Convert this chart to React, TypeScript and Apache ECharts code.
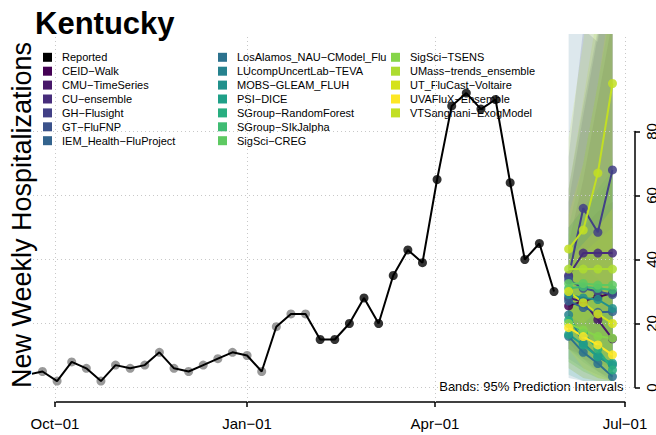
import React, { useEffect, useRef } from 'react';
import * as echarts from 'echarts';

// ---------- data ----------
const reportedStart = '2021-09-18';
const reportedValues = [
  4, 5, 2, 8, 6, 2, 7, 6, 7, 11, 6, 5, 7, 9, 11, 10, 5, 19, 23, 23,
  15, 15, 20, 28, 20, 35, 43, 39, 65, 88, 92, 87, 90, 64, 40, 45, 30,
];
const greyUntil = '2022-01-29';

const forecastDates = ['2022-06-04', '2022-06-11', '2022-06-18', '2022-06-25'];

const models = [
  'CEID−Walk', 'CMU−TimeSeries', 'CU−ensemble', 'GH−Flusight', 'GT−FluFNP',
  'IEM_Health−FluProject', 'LosAlamos_NAU−CModel_Flu', 'LUcompUncertLab−TEVA',
  'MOBS−GLEAM_FLUH', 'PSI−DICE', 'SGroup−RandomForest', 'SGroup−SIkJalpha',
  'SigSci−CREG', 'SigSci−TSENS', 'UMass−trends_ensemble', 'UT_FluCast−Voltaire',
  'UVAFluX−Ensemble', 'VTSanghani−ExogModel',
];
const modelColors = [
  '#440154', '#48186a', '#472d7b', '#424086', '#3b528b', '#33638d', '#2c728e',
  '#26828e', '#21918c', '#1fa088', '#28ae80', '#3fbc73', '#5ec962', '#86d549',
  '#addc30', '#d5e21a', '#fde725', '#c2df23',
];
const medians = [
  [25.5, 27, 28.3, 29.5],
  [28, 26.8, 21.2, 15.2],
  [35, 42, 42, 42],
  [34.6, 56, 48.5, 68],
  [33.6, 31, 30, 29],
  [27, 25, 23.5, 23.7],
  [16, 11, 7.5, 3.4],
  [22.7, 13.8, 9.6, 7],
  [29, 28, 27.5, 24.7],
  [16.6, 13.3, 9.6, 7.6],
  [21, 17, 12, 5.5],
  [31, 31.5, 31, 30.5],
  [32.5, 32.5, 32, 32],
  [20, 18, 16, 15.4],
  [37, 37, 37, 37],
  [30, 26.5, 23, 20],
  [18.7, 15.9, 13.3, 10.2],
  [43.3, 49.2, 67, 95],
];
const lower95 = [
  [12, 10, 8, 6], [14, 9, 5, 2], [20, 18, 14, 10], [16, 22, 14, 16],
  [12, 9, 7, 5], [9, 6, 4, 2], [3, 2, 2, 2], [6, 3, 2, 2], [12, 8, 5, 3],
  [4, 2, 2, 2], [8, 5, 3, 2], [16, 12, 8, 5], [18, 14, 10, 7], [8, 5, 3, 2],
  [18, 12, 8, 4], [12, 6, 3, 2], [6, 3, 2, 2], [22, 20, 24, 32],
];
const upper95 = [
  [45, 65, 90, 115], [44, 50, 55, 58], [58, 85, 110, 130], [72, 112, 108, 140],
  [62, 88, 112, 135], [50, 56, 60, 66], [130, 125, 120, 118], [42, 38, 34, 30],
  [50, 56, 62, 68], [34, 30, 26, 22], [38, 35, 32, 28], [50, 70, 95, 120],
  [48, 56, 64, 72], [38, 42, 46, 50], [62, 90, 118, 145], [54, 70, 95, 125],
  [40, 45, 50, 56], [78, 108, 145, 190],
];

const xTickDates = ['2021-10-01', '2022-01-01', '2022-04-01', '2022-07-01'];
const xTickLabels = ['Oct−01', 'Jan−01', 'Apr−01', 'Jul−01'];
const yTicks = [0, 20, 40, 60, 80];

// ---------- helpers ----------
const DAY = 86400000;
const ts = (s: string) => Date.parse(s + 'T00:00:00Z');
const FONT = '"Liberation Sans", Arial, Helvetica, sans-serif';

export default function App() {
  const ref = useRef<HTMLDivElement>(null);

  useEffect(() => {
    document.body.style.margin = '0';
    if (!ref.current) return;
    const chart = echarts.init(ref.current, undefined, { renderer: 'svg' });

    const startTs = ts(reportedStart);
    const reported = reportedValues.map((v, i) => [startTs + i * 7 * DAY, v]);
    const greyEnd = ts(greyUntil);
    const fTs = forecastDates.map(ts);
    const tickTs = xTickDates.map(ts);

    const xMin = ts('2021-10-01') - 10.537 * DAY;
    const xMax = ts('2022-07-01') + 4.789 * DAY;

    const series: any[] = [];

    // grid lines (dotted)
    series.push({
      type: 'line',
      name: '__grid',
      data: [],
      z: 0,
      silent: true,
      markLine: {
        silent: true,
        symbol: ['none', 'none'],
        label: { show: false },
        lineStyle: { color: '#c8c8c8', type: [1, 3], width: 1 },
        data: [
          ...tickTs.map((t) => ({ xAxis: t })),
          ...yTicks.map((v) => ({ yAxis: v })),
        ],
      },
    });

    // prediction bands (95% intervals) as polygons through the axis scales
    series.push({
      type: 'custom',
      name: 'Bands',
      silent: true,
      z: 2,
      clip: true,
      encode: { x: 0, y: 1 },
      data: models.map((_, i) => [fTs[0], lower95[i][0], i]),
      renderItem: (params: any, api: any) => {
        const idx = api.value(2);
        const top = fTs.map((t, k) => api.coord([t, upper95[idx][k]]));
        const bot = fTs.map((t, k) => api.coord([t, lower95[idx][k]])).reverse();
        const cs = params.coordSys;
        return {
          type: 'polygon',
          shape: { points: top.concat(bot) },
          style: { fill: modelColors[idx], opacity: 0.16 },
          clipPath: {
            type: 'rect',
            shape: { x: cs.x, y: cs.y, width: cs.width, height: cs.height },
          },
        };
      },
    });

    // medians
    models.forEach((m, i) => {
      series.push({
        type: 'line',
        name: m,
        color: modelColors[i],
        data: fTs.map((t, k) => [t, medians[i][k]]),
        symbol: 'circle',
        symbolSize: 9,
        showSymbol: true,
        lineStyle: { width: 2, color: modelColors[i] },
        itemStyle: { color: modelColors[i], opacity: 0.85 },
        z: 3,
      });
    });

    // reported
    series.push({
      type: 'scatter',
      name: 'Reported (grey)',
      data: reported.filter((d) => d[0] <= greyEnd),
      symbolSize: 9,
      itemStyle: { color: '#7f7f7f' },
      z: 5,
    });
    series.push({
      type: 'line',
      name: 'Reported',
      color: '#000',
      data: reported,
      symbol: 'none',
      lineStyle: { color: '#000', width: 2 },
      z: 6,
    });
    series.push({
      type: 'scatter',
      name: 'Reported (black)',
      data: reported.filter((d) => d[0] > greyEnd),
      symbolSize: 9,
      itemStyle: { color: '#000' },
      z: 7,
    });

    const legendBase = {
      orient: 'vertical',
      top: 50.35,
      padding: 0,
      itemGap: 0,
      itemWidth: 9,
      itemHeight: 9,
      icon: 'rect',
      selectedMode: false,
      itemStyle: { opacity: 1 },
      textStyle: {
        fontSize: 11,
        fontFamily: FONT,
        color: '#000',
        lineHeight: 13.9,
        padding: [0, 0, 0, 5],
      },
      z: 4,
    };

    const option: any = {
      animation: false,
      backgroundColor: '#fff',
      grid: [
        { left: 33, right: 21, top: 34, bottom: 33, outerBoundsMode: 'none', containLabel: false },
        { left: 55, right: 31, top: 34, bottom: 33, outerBoundsMode: 'none', containLabel: false },
        { left: 33, right: 21, top: 131.5, bottom: 47.5, outerBoundsMode: 'none', containLabel: false },
      ],
      xAxis: [
        { gridIndex: 0, type: 'value', min: xMin, max: xMax, show: false },
        {
          gridIndex: 1,
          type: 'value',
          min: tickTs[0],
          max: tickTs[tickTs.length - 1],
          axisLine: { show: true, lineStyle: { color: '#000', width: 1.5 } },
          axisTick: {
            show: true,
            customValues: tickTs,
            length: 5,
            lineStyle: { color: '#000', width: 1.5 },
          },
          axisLabel: {
            customValues: tickTs,
            formatter: (v: number) => {
              const idx = tickTs.findIndex((t) => Math.abs(t - v) < DAY / 2);
              return idx >= 0 ? xTickLabels[idx] : '';
            },
            fontSize: 15,
            fontFamily: FONT,
            color: '#000',
            margin: 14,
          },
          splitLine: { show: false },
        },
        { gridIndex: 2, type: 'value', min: xMin, max: xMax, show: false },
      ],
      yAxis: [
        { gridIndex: 0, type: 'value', min: -4.53, max: 110.47, show: false },
        { gridIndex: 1, type: 'value', min: 0, max: 1, show: false },
        {
          gridIndex: 2,
          type: 'value',
          position: 'right',
          min: yTicks[0],
          max: yTicks[yTicks.length - 1],
          interval: 20,
          axisLine: { show: true, onZero: false, lineStyle: { color: '#000', width: 1.5 } },
          axisTick: { show: true, length: 5, lineStyle: { color: '#000', width: 1.5 } },
          axisLabel: {
            show: true,
            rotate: 90,
            fontSize: 15,
            fontFamily: FONT,
            color: '#000',
            margin: 9,
          },
          splitLine: { show: false },
        },
      ],
      legend: [
        { ...legendBase, left: 43, data: ['Reported', ...models.slice(0, 6)] },
        { ...legendBase, left: 218, data: models.slice(6, 13) },
        { ...legendBase, left: 391, data: models.slice(13) },
      ],
      graphic: [
        {
          type: 'text',
          x: 35,
          y: 23,
          style: {
            text: 'Kentucky',
            font: 'bold 31px ' + FONT,
            fill: '#000',
            verticalAlign: 'middle',
          },
        },
        {
          type: 'text',
          x: 21.5,
          y: 215,
          rotation: Math.PI / 2,
          style: {
            text: 'New Weekly Hospitalizations',
            font: '27px ' + FONT,
            fill: '#000',
            align: 'center',
            verticalAlign: 'middle',
          },
        },
        {
          type: 'rect',
          z: 1,
          shape: { x: 436, y: 378, width: 194, height: 18 },
          style: { fill: '#fff' },
        },
        {
          type: 'text',
          z: 1,
          x: 623.5,
          y: 386,
          style: {
            text: 'Bands: 95% Prediction Intervals',
            font: '13px ' + FONT,
            fill: '#000',
            align: 'right',
            verticalAlign: 'middle',
          },
        },
      ],
      series: series.map((s) => ({ ...s, xAxisIndex: 0, yAxisIndex: 0 })),
    };

    chart.setOption(option);
    return () => chart.dispose();
  }, []);

  return (
    <div
      ref={ref}
      style={{ position: 'absolute', left: 0, top: 0, width: 656, height: 435 }}
    />
  );
}
